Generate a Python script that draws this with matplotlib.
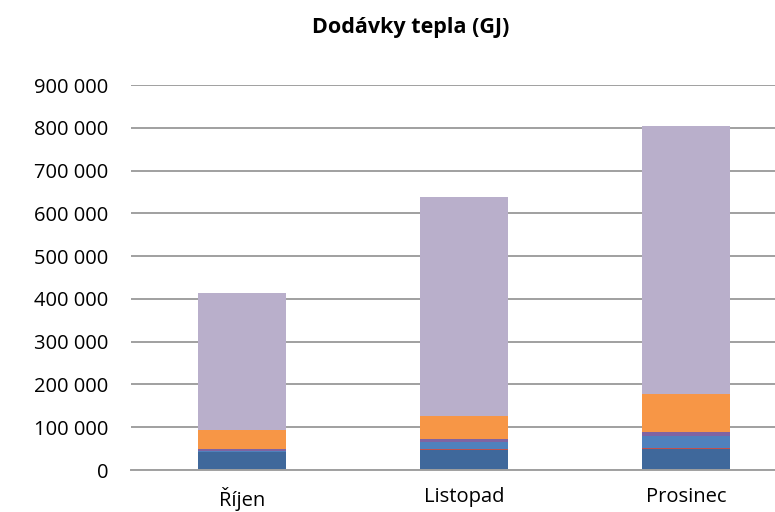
import numpy as np
import matplotlib.pyplot as plt

months = ['Říjen', 'Listopad', 'Prosinec']

# stacked segments, bottom to top (GJ)
dark_blue = [41000, 46500, 49000]
red = [1000, 2000, 3500]
mid_blue = [3000, 16000, 27000]
purple = [5000, 7500, 8500]
orange = [43000, 54000, 89000]
lavender = [320000, 512000, 628000]

series = [dark_blue, red, mid_blue, purple, orange, lavender]
colors = ['#3F689B', '#C0504D', '#4F81BD', '#8064A2', '#F79646', '#B9AFCB']

plt.rcParams['font.family'] = ['Open Sans', 'DejaVu Sans']

fig = plt.figure(figsize=(7.75, 5.12), dpi=100)
ax = fig.add_axes([131 / 775, 42 / 512, 1 - 131 / 775, 385 / 512])

x = np.arange(len(months))
bottom = np.zeros(len(months))
for vals, c in zip(series, colors):
    ax.bar(x, vals, width=0.4, bottom=bottom, color=c, zorder=2)
    bottom += np.array(vals)

ax.set_ylim(0, 900000)
ax.set_xlim(-0.5, (775 - 131) / 222 - 0.5)
yt = np.arange(0, 900001, 100000)
ax.set_yticks(yt)
ax.set_yticklabels(['{:,}'.format(v).replace(',', ' ') for v in yt], fontsize=14.5)
ax.set_xticks(x)
ax.set_xticklabels(months, fontsize=14.5)
ax.tick_params(length=0)
ax.tick_params(axis='y', pad=16.5)
ax.tick_params(axis='x', pad=12)
ax.grid(axis='y', color='#A0A0A0', linewidth=1.4, zorder=0)
for s in ['top', 'right', 'left']:
    ax.spines[s].set_visible(False)
ax.spines['bottom'].set_color('#A0A0A0')
ax.spines['bottom'].set_linewidth(1.4)

fig.text(411 / 775, 1 - 33 / 512, 'Dodávky tepla (GJ)', ha='center', va='baseline',
         fontsize=15.5, fontweight='bold')

fig.savefig('out.png', dpi=100)
